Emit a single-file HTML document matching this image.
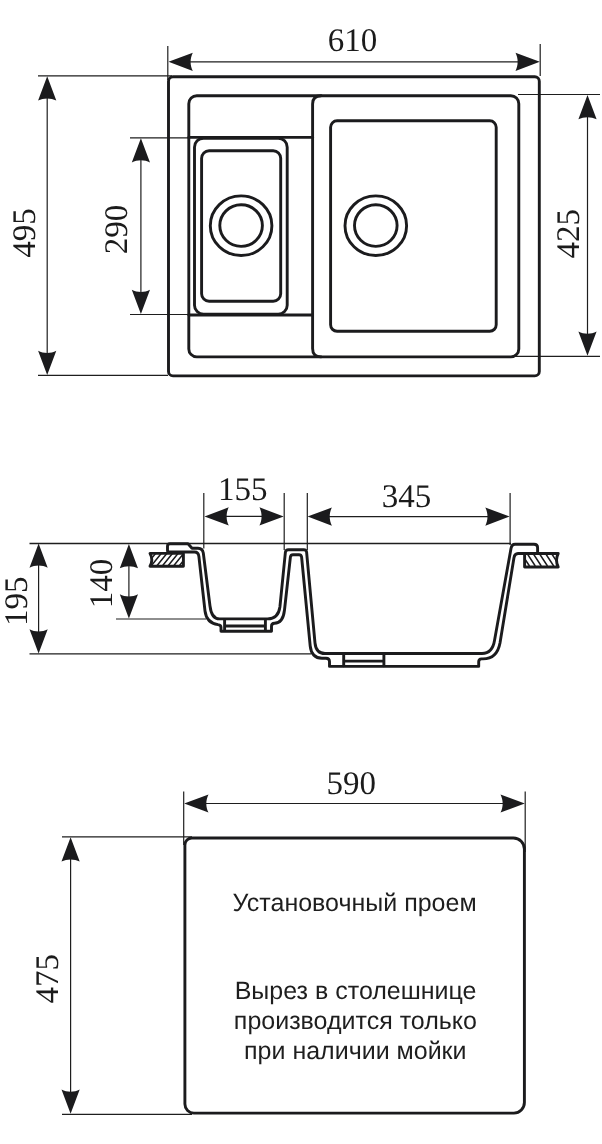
<!DOCTYPE html>
<html><head><meta charset="utf-8">
<style>
html,body{margin:0;padding:0;background:#fff;width:602px;height:1144px;overflow:hidden}
svg{display:block}
text{filter:grayscale(1);text-rendering:geometricPrecision}
.k{fill:none;stroke:#1b1b1d;stroke-width:2.9;stroke-linejoin:round;stroke-linecap:round}
.t{fill:none;stroke:#1e1e1e;stroke-width:1.2}
.h{fill:none;stroke:#1b1b1d;stroke-width:1.5}
.a{fill:#1b1b1d}
.n{font-family:"Liberation Serif",serif;font-size:33px;fill:#1b1b1d}
.s{font-family:"Liberation Sans",sans-serif;font-size:25px;fill:#1e1e1e}
</style></head><body>
<svg width="602" height="1144" viewBox="0 0 602 1144">
<defs>
<path id="ar" d="M0 0 L24.3 -9.1 C21.4 -3.6 21.4 3.6 24.3 9.1 Z"/>
<clipPath id="cl"><path d="M150 553.4 L183.4 553.4 L183.4 566.3 L150 566.3 Q153.6 559.8 150 553.4 Z"/></clipPath>
<clipPath id="cr"><path d="M524.6 553.5 L558.2 553.5 Q554.8 560.2 558.2 567 L524.6 567 Z"/></clipPath>
</defs>

<!-- ============ TOP VIEW ============ -->
<!-- dimension 610 -->
<line class="t" x1="167.8" y1="46" x2="167.8" y2="80"/>
<line class="t" x1="540.2" y1="44" x2="540.2" y2="76"/>
<line class="t" x1="180" y1="61.8" x2="528" y2="61.8"/>
<use href="#ar" class="a" transform="translate(168.5 61.8)"/>
<use href="#ar" class="a" transform="translate(539.8 61.8) rotate(180)"/>
<text class="n" x="352.4" y="50.6" text-anchor="middle">610</text>

<!-- dimension 495 -->
<line class="t" x1="38" y1="75.8" x2="172" y2="75.8"/>
<line class="t" x1="38" y1="375.4" x2="168" y2="375.4"/>
<line class="t" x1="47.2" y1="90" x2="47.2" y2="362"/>
<use href="#ar" class="a" transform="translate(47.2 76.3) rotate(90)"/>
<use href="#ar" class="a" transform="translate(47.2 375) rotate(-90)"/>
<text class="n" transform="translate(35.4 233)  rotate(-90)" text-anchor="middle">495</text>

<!-- dimension 290 -->
<line class="t" x1="130" y1="137.8" x2="189" y2="137.8"/>
<line class="t" x1="130" y1="314.5" x2="189" y2="314.5"/>
<line class="t" x1="140.9" y1="150" x2="140.9" y2="302"/>
<use href="#ar" class="a" transform="translate(140.9 138.2) rotate(90)"/>
<use href="#ar" class="a" transform="translate(140.9 314.1) rotate(-90)"/>
<text class="n" transform="translate(126.6 229.45) rotate(-90)" text-anchor="middle">290</text>

<!-- dimension 425 -->
<line class="t" x1="518" y1="94.5" x2="600" y2="94.5"/>
<line class="t" x1="512" y1="356.3" x2="600" y2="356.3"/>
<line class="t" x1="587.5" y1="108" x2="587.5" y2="343"/>
<use href="#ar" class="a" transform="translate(587.5 95) rotate(90)"/>
<use href="#ar" class="a" transform="translate(587.5 355.8) rotate(-90)"/>
<text class="n" transform="translate(578.7 233.8) rotate(-90)" text-anchor="middle">425</text>

<!-- sink outlines -->
<rect class="k" x="168.5" y="76.8" width="370.8" height="299.1" rx="4.5"/>
<rect class="k" x="188.8" y="95.7" width="330" height="261.2" rx="8"/>
<path class="k" d="M321 95.7 Q312.6 95.7 312.6 104 L312.6 348.5 Q312.6 356.9 321 356.9"/>
<line class="k" x1="188.8" y1="137.4" x2="312.6" y2="137.4"/>
<line class="k" x1="188.8" y1="315" x2="312.6" y2="315"/>
<rect class="k" x="194.5" y="138.2" width="92.7" height="176" rx="9"/>
<rect class="k" x="201.6" y="150.8" width="79.1" height="150.4" rx="7.5"/>
<rect class="k" x="330.6" y="120.8" width="165.6" height="210.5" rx="6.5"/>
<ellipse class="k" cx="241.1" cy="225.7" rx="30.8" ry="29.8"/>
<ellipse class="k" cx="241.1" cy="225.6" rx="21.3" ry="20.8"/>
<ellipse class="k" cx="375.8" cy="225.7" rx="30.8" ry="29.8"/>
<ellipse class="k" cx="375.8" cy="225.6" rx="21.3" ry="20.8"/>

<!-- ============ SIDE VIEW ============ -->
<!-- dims 155 / 345 -->
<line class="t" x1="203.8" y1="493" x2="203.8" y2="548.5"/>
<line class="t" x1="284.2" y1="493" x2="284.2" y2="550"/>
<line class="t" x1="307.3" y1="493" x2="307.3" y2="550"/>
<line class="t" x1="510.1" y1="493" x2="510.1" y2="545"/>
<line class="t" x1="215" y1="516.4" x2="272" y2="516.4"/>
<use href="#ar" class="a" transform="translate(204.5 516.4)"/>
<use href="#ar" class="a" transform="translate(283.7 516.4) rotate(180)"/>
<text class="n" x="242.7" y="499.7" text-anchor="middle">155</text>
<line class="t" x1="320" y1="516.6" x2="498" y2="516.6"/>
<use href="#ar" class="a" transform="translate(307.6 516.6)"/>
<use href="#ar" class="a" transform="translate(509.6 516.6) rotate(180)"/>
<text class="n" x="406.6" y="506.8" text-anchor="middle">345</text>

<!-- dims 195 / 140 -->
<line class="t" x1="29.5" y1="543.5" x2="511" y2="543.5" style="stroke-width:1.7"/>
<line class="t" x1="29.5" y1="653.9" x2="311" y2="653.9"/>
<line class="t" x1="116" y1="619" x2="206" y2="619"/>
<line class="t" x1="38.6" y1="560" x2="38.6" y2="636"/>
<use href="#ar" class="a" transform="translate(38.6 543.4) rotate(90)"/>
<use href="#ar" class="a" transform="translate(38.6 653.6) rotate(-90)"/>
<text class="n" transform="translate(27 601.2) rotate(-90)" text-anchor="middle">195</text>
<line class="t" x1="128.9" y1="560" x2="128.9" y2="602"/>
<use href="#ar" class="a" transform="translate(128.9 544) rotate(90)"/>
<use href="#ar" class="a" transform="translate(128.9 618.6) rotate(-90)"/>
<text class="n" transform="translate(111.7 583.5) rotate(-90)" text-anchor="middle">140</text>

<!-- sink profile -->
<path class="k" d="M167.5 546.3 Q167.5 543.8 170 543.8 L188 543.8 L192 548.3 L198 548.3 Q202.6 548.5 203.3 553 L210 606 Q211.5 618.9 219.5 618.9 L267.5 618.9 Q278.3 618.9 279.9 607 L285.4 552.2 Q285.8 549.7 288.4 549.7 L303.8 549.7 Q306.3 549.7 306.6 552.2 L315 643 Q316 653.5 325 653.5 L482 653.5 Q492.5 653.5 494.6 640 L511 548.5 Q511.8 544.2 515 544.2 L534 544.2 Q537.6 544.2 537.6 547.5 L537.6 553.5 L518 553.5 Q514.6 553.6 514 557.5 L500 643 Q497 658.9 483 658.9 L481.5 658.9 Q478.7 659 478.7 661.8 L478.7 666.4 L329.5 666.4 L329.5 661.5 Q329.5 658.2 326 658.2 L322 658.2 Q311.5 658.2 310.2 646 L301.6 557 Q301.2 554.8 299 554.8 L293 554.8 Q290.8 554.8 290.4 557 L284.5 610 Q283 623.2 274.5 623.2 Q271.5 623.3 271.5 626.2 L271.5 631.3 L221 631.3 L221 627.5 Q221 624.8 218 624.6 Q206.5 623 205 611 L198.9 556.5 Q198.4 552 194.5 552 L169 552 Q167.5 552 167.5 550.5 Z"/>
<!-- feet inner -->
<path class="k" d="M224.6 619.5 L224.6 630.5 M265.4 619.5 L265.4 630.5 M224.6 626 L265.4 626"/>
<path class="k" d="M343.7 654 L343.7 665.8 M383.9 654 L383.9 665.8 M343.7 661.1 L383.9 661.1"/>

<!-- countertops -->
<path class="k" d="M150 553.4 L183.4 553.4 L183.4 566.3 L150 566.3 Q153.6 559.8 150 553.4 Z"/>
<g clip-path="url(#cl)"><path class="h" d="M145.5 566 L156 553 M151.1 566 L161.6 553 M156.7 566 L167.2 553 M162.3 566 L172.8 553 M167.9 566 L178.4 553 M173.5 566 L184 553 M179.1 566 L189.6 553"/></g>
<path class="k" d="M524.6 553.5 L558.2 553.5 Q554.8 560.2 558.2 567 L524.6 567 Z"/>
<g clip-path="url(#cr)"><path class="h" d="M521 553 L529.5 566 M526.8 553 L535.3 566 M532.8 553 L541.3 566 M539 553 L547.5 566 M545.2 553 L553.7 566 M551.2 553 L559.7 566"/></g>

<!-- ============ CUTOUT VIEW ============ -->
<line class="t" x1="183.7" y1="791.6" x2="183.7" y2="845"/>
<line class="t" x1="525.2" y1="791.5" x2="525.2" y2="852"/>
<line class="t" x1="196" y1="803.5" x2="513" y2="803.5"/>
<use href="#ar" class="a" transform="translate(184.2 803.5)"/>
<use href="#ar" class="a" transform="translate(524.8 803.5) rotate(180)"/>
<text class="n" x="351.25" y="794" text-anchor="middle">590</text>

<line class="t" x1="62" y1="836.8" x2="192" y2="836.8"/>
<line class="t" x1="62" y1="1114.3" x2="192" y2="1114.3"/>
<line class="t" x1="70.6" y1="850" x2="70.6" y2="1100"/>
<use href="#ar" class="a" transform="translate(70.6 837.3) rotate(90)"/>
<use href="#ar" class="a" transform="translate(70.6 1113.8) rotate(-90)"/>
<text class="n" transform="translate(57.7 978.8) rotate(-90)" text-anchor="middle">475</text>

<path class="k" d="M191.9 838 L513.4 838 A11 11 0 0 1 524.4 849 L524.4 1102.6 A10.5 10.5 0 0 1 513.9 1113.1 L193.9 1113.1 A9 9 0 0 1 184.9 1104.1 L184.9 845 A7 7 0 0 1 191.9 838 Z"/>

<text class="s" x="354.6" y="910.8" text-anchor="middle">Установочный проем</text>
<text class="s" x="355.6" y="998.9" text-anchor="middle">Вырез в столешнице</text>
<text class="s" x="355.4" y="1028.8" text-anchor="middle">производится только</text>
<text class="s" x="355.3" y="1059.4" text-anchor="middle">при наличии мойки</text>
</svg>
</body></html>
